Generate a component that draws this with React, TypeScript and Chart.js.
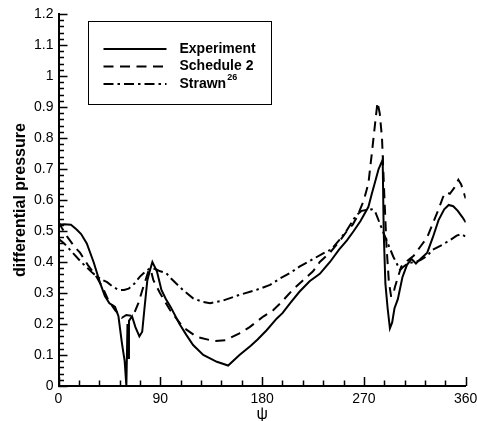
import { useEffect, useRef } from 'react';
import { Chart, registerables } from 'chart.js';

Chart.register(...registerables);

// ---- data ----
const expPsi = [0, 5, 11, 16, 20, 25, 31, 37, 41, 45, 48, 50, 53, 56, 58.5, 60, 61, 61.7, 62.3, 65, 68, 71.5, 74, 76, 78.5, 81, 83, 85, 87, 91, 95, 99, 107, 113, 119, 128, 140, 150, 160, 170, 176, 184, 193, 198, 205, 213, 222, 231, 240, 248, 255, 261, 267, 274, 277, 280, 283, 286.6, 287.5, 289, 291, 293, 295, 297, 300, 304, 308, 312, 316, 320, 326, 331, 336, 341, 345, 349, 353, 357, 360];
const expVal = [0.52, 0.522, 0.52, 0.505, 0.49, 0.46, 0.4, 0.33, 0.29, 0.267, 0.26, 0.255, 0.225, 0.14, 0.08, 0.0, 0.2, 0.09, 0.21, 0.225, 0.19, 0.16, 0.175, 0.25, 0.34, 0.375, 0.4, 0.385, 0.37, 0.31, 0.28, 0.256, 0.2, 0.165, 0.132, 0.1, 0.078, 0.066, 0.1, 0.13, 0.15, 0.18, 0.218, 0.235, 0.268, 0.304, 0.338, 0.362, 0.4, 0.44, 0.47, 0.5, 0.532, 0.578, 0.62, 0.66, 0.7, 0.73, 0.5, 0.33, 0.25, 0.186, 0.205, 0.25, 0.28, 0.35, 0.39, 0.41, 0.395, 0.41, 0.43, 0.48, 0.535, 0.57, 0.584, 0.58, 0.565, 0.545, 0.528];

const schPsi = [0, 3, 8, 14, 19, 26, 34, 40, 44, 50, 56, 60, 66, 70.6, 75, 79.4, 81.5, 83.8, 89.7, 98.6, 110, 122, 137, 148, 160, 169, 181, 190, 197, 207, 216, 225, 231, 240, 249, 255, 260, 264, 270, 274, 277, 280, 282, 284, 286, 288, 290, 292, 294, 295.5, 297.5, 300, 303, 309, 314, 320, 326, 331, 336, 340, 343, 346, 350, 353.5, 356, 360];
const schVal = [0.53, 0.51, 0.48, 0.45, 0.43, 0.39, 0.35, 0.31, 0.277, 0.245, 0.22, 0.229, 0.226, 0.267, 0.32, 0.369, 0.376, 0.342, 0.3, 0.245, 0.19, 0.159, 0.145, 0.148, 0.17, 0.19, 0.224, 0.245, 0.27, 0.31, 0.34, 0.37, 0.4, 0.43, 0.47, 0.5, 0.52, 0.546, 0.6, 0.654, 0.75, 0.85, 0.915, 0.88, 0.8, 0.62, 0.45, 0.34, 0.29, 0.29, 0.32, 0.35, 0.385, 0.406, 0.42, 0.45, 0.48, 0.525, 0.57, 0.61, 0.625, 0.62, 0.64, 0.665, 0.65, 0.605];

const strPsi = [0, 5, 10, 20, 30, 37, 43, 48, 53, 58, 62, 67, 72, 77, 81, 85, 90, 95, 100, 110, 119, 127, 134, 145, 160, 175, 187, 196, 205, 213, 223, 234, 241, 248, 255, 263, 268, 273, 277, 280, 284, 290, 296, 302, 305, 309, 315, 320, 326, 331, 339, 346, 352, 356, 360];
const strVal = [0.475, 0.46, 0.44, 0.4, 0.365, 0.345, 0.335, 0.32, 0.31, 0.31, 0.314, 0.33, 0.353, 0.37, 0.38, 0.378, 0.37, 0.365, 0.345, 0.31, 0.283, 0.272, 0.267, 0.275, 0.294, 0.31, 0.326, 0.347, 0.365, 0.385, 0.405, 0.428, 0.44, 0.47, 0.503, 0.55, 0.565, 0.568, 0.57, 0.562, 0.525, 0.47, 0.417, 0.374, 0.385, 0.396, 0.4, 0.406, 0.42, 0.44, 0.455, 0.47, 0.485, 0.49, 0.482];

const legendLabels = ['Experiment', 'Schedule 2', 'Strawn'];
const legendSup = ['', '', '26'];
const xTickValues = [0, 90, 180, 270, 360];
const yTickValues = [0, 0.1, 0.2, 0.3, 0.4, 0.5, 0.6, 0.7, 0.8, 0.9, 1, 1.1, 1.2];
const xMinorStep = 18;
const yMinorStep = 0.02;
const xTitle = 'ψ';
const yTitle = 'differential pressure';

const FONT = '"Liberation Sans", Arial, sans-serif';
const dashes: number[][] = [[], [10, 6.5], [10, 4, 2.5, 4]];

const toPts = (xs: number[], ys: number[]) => xs.map((x, i) => ({ x, y: ys[i] }));

const ticksPlugin = {
  id: 'inwardTicks',
  afterDraw(chart: any) {
    const ctx = chart.ctx;
    const xs = chart.scales.x;
    const ys = chart.scales.y;
    const area = chart.chartArea;
    ctx.save();
    ctx.strokeStyle = '#000';
    ctx.lineWidth = 1.5;
    ctx.beginPath();
    for (let v = xs.min; v <= xs.max + 1e-6; v += xMinorStep) {
      const major = xTickValues.some((t) => Math.abs(t - v) < 1e-6);
      const px = Math.round(xs.getPixelForValue(v)) + 0.5;
      const len = major ? 9 : 5.5;
      ctx.moveTo(px, area.bottom);
      ctx.lineTo(px, area.bottom - len);
    }
    const n = Math.round((ys.max - ys.min) / yMinorStep);
    for (let i = 0; i <= n; i++) {
      const v = ys.min + i * yMinorStep;
      const major = yTickValues.some((t) => Math.abs(t - v) < 1e-6);
      const py = Math.round(ys.getPixelForValue(v)) + 0.5;
      const len = major ? 9 : 5.5;
      ctx.moveTo(area.left, py);
      ctx.lineTo(area.left + len, py);
    }
    ctx.stroke();
    ctx.restore();
  },
};

const legendPlugin = {
  id: 'boxLegend',
  afterDraw(chart: any) {
    const ctx = chart.ctx;
    const area = chart.chartArea;
    const bx = area.left + 29;
    const by = area.top + 7;
    const bw = 183;
    const bh = 83;
    ctx.save();
    ctx.strokeStyle = '#000';
    ctx.lineWidth = 1;
    ctx.strokeRect(Math.round(bx) + 0.5, Math.round(by) + 0.5, bw, bh);
    legendLabels.forEach((label, i) => {
      const y = by + 28 + i * 17.5;
      ctx.setLineDash(dashes[i]);
      ctx.lineWidth = 2;
      ctx.beginPath();
      ctx.moveTo(bx + 16, y);
      ctx.lineTo(bx + 79, y);
      ctx.stroke();
      ctx.setLineDash([]);
      ctx.fillStyle = '#000';
      ctx.font = `bold 14px ${FONT}`;
      ctx.textBaseline = 'middle';
      ctx.textAlign = 'left';
      const tx = bx + 92;
      ctx.fillText(label, tx, y);
      if (legendSup[i]) {
        const w = ctx.measureText(label).width;
        ctx.font = `bold 9px ${FONT}`;
        ctx.fillText(legendSup[i], tx + w + 1, y - 6);
      }
    });
    ctx.restore();
  },
};

export default function App() {
  const ref = useRef<HTMLCanvasElement>(null);
  useEffect(() => {
    if (!ref.current) return;
    const mk = (label: string, xs: number[], ys: number[], i: number) => ({
      label,
      data: toPts(xs, ys),
      borderColor: '#000',
      backgroundColor: '#000',
      borderWidth: 2,
      borderDash: dashes[i],
      pointRadius: 0,
      tension: 0,
      fill: false,
    });
    const chart = new Chart(ref.current, {
      type: 'line',
      data: {
        datasets: [
          mk(legendLabels[0], expPsi, expVal, 0),
          mk(legendLabels[1], schPsi, schVal, 1),
          mk(legendLabels[2], strPsi, strVal, 2),
        ],
      },
      options: {
        responsive: false,
        animation: false,
        devicePixelRatio: 1,
        layout: { padding: { left: 0, top: 14, right: 11.3, bottom: 0 } },
        plugins: { legend: { display: false }, tooltip: { enabled: false } },
        scales: {
          x: {
            type: 'linear',
            min: 0,
            max: 360,
            afterBuildTicks: (s: any) => {
              s.ticks = xTickValues.map((v) => ({ value: v }));
            },
            afterFit: (s: any) => {
              s.height = 35;
              s.paddingLeft = 0;
              s.paddingRight = 0;
            },
            ticks: {
              color: '#000',
              font: { family: FONT, size: 14 },
              padding: 5,
              maxRotation: 0,
              autoSkip: false,
              callback: (v: any) => String(v),
            },
            grid: { display: true, drawOnChartArea: false, drawTicks: false },
            border: { display: true, color: '#000', width: 2 },
            title: {
              display: true,
              text: xTitle,
              color: '#000',
              font: { family: FONT, size: 16 },
              padding: { top: 0, bottom: -3 },
            },
          },
          y: {
            type: 'linear',
            min: 0,
            max: 1.2,
            afterBuildTicks: (s: any) => {
              s.ticks = yTickValues.map((v) => ({ value: v }));
            },
            afterFit: (s: any) => {
              s.width = 58.5;
              s.paddingTop = 0;
              s.paddingBottom = 0;
            },
            ticks: {
              color: '#000',
              font: { family: FONT, size: 14 },
              padding: 5,
              autoSkip: false,
              callback: (v: any) => String(Number(Number(v).toFixed(1))),
            },
            grid: { display: true, drawOnChartArea: false, drawTicks: false },
            border: { display: true, color: '#000', width: 2 },
            title: {
              display: true,
              text: yTitle,
              color: '#000',
              font: { family: FONT, size: 16, weight: 'bold' },
              padding: { top: 11, bottom: 0 },
            },
          },
        },
      },
      plugins: [ticksPlugin, legendPlugin],
    } as any);
    return () => chart.destroy();
  }, []);
  return (
    <div style={{ position: 'fixed', left: 0, top: 0, width: 477, height: 421, background: '#fff' }}>
      <canvas ref={ref} width={477} height={421} />
    </div>
  );
}
